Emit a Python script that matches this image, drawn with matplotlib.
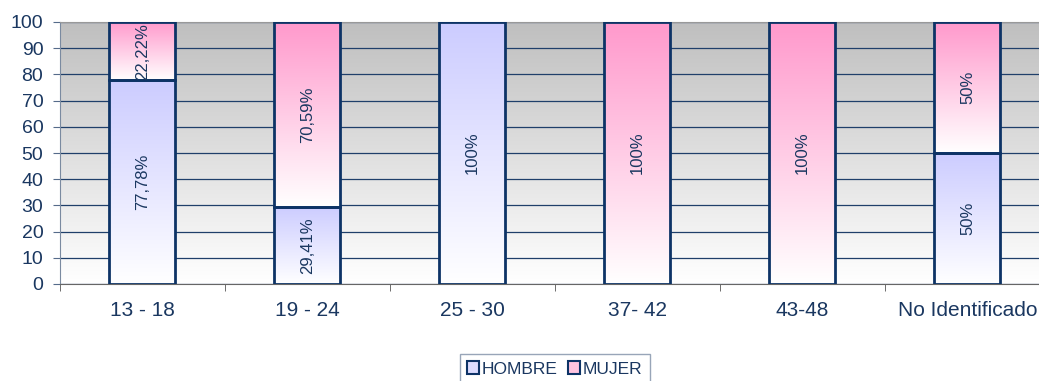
import matplotlib
matplotlib.use("Agg")
import matplotlib.pyplot as plt
import numpy as np
from matplotlib.colors import LinearSegmentedColormap
from matplotlib.patches import Patch

plt.rcParams["font.family"] = ["Liberation Sans", "DejaVu Sans"]

categories = ["13 - 18", "19 - 24", "25 - 30", "37- 42", "43-48", "No Identificado"]
hombre = [77.78, 29.41, 100, 0, 0, 50]
mujer = [22.22, 70.59, 0, 100, 100, 50]
series = ["HOMBRE", "MUJER"]

text_col = "#1a3760"
edge_col = "#0d3366"
colors = {"HOMBRE": "#ccccff", "MUJER": "#ff99cc"}


def fmt(v):
    if abs(v - round(v)) < 1e-9:
        return "%d%%" % round(v)
    return ("%.2f%%" % v).replace(".", ",")


def grad_cmap(c):
    return LinearSegmentedColormap.from_list("g", ["#ffffff", c])


fig = plt.figure(figsize=(10.39, 3.81), dpi=100)
ax = fig.add_axes([60 / 1039, 97 / 381, 990 / 1039, 262 / 381])

x = np.arange(len(categories))
xlim = (-0.5, len(categories) - 0.5)

# background gradient: gray at top, white at bottom
bg = np.linspace(0, 1, 256).reshape(-1, 1)
ax.imshow(bg, extent=(xlim[0], xlim[1], 0, 100), origin="lower", aspect="auto",
          cmap=LinearSegmentedColormap.from_list("bg", ["#ffffff", "#bfbfbf"]),
          zorder=0)

ax.set_axisbelow(True)
ax.yaxis.grid(True, color="#1f3f6a", linewidth=0.9, zorder=1)

bottom = np.zeros(len(categories))
for name, vals in zip(series, [hombre, mujer]):
    vals = np.array(vals, dtype=float)
    cmap = grad_cmap(colors[name])
    for i, v in enumerate(vals):
        if v <= 0:
            continue
        rect = ax.bar(x[i], v, width=0.4, bottom=bottom[i], facecolor="none",
                      edgecolor=edge_col, linewidth=2, zorder=3)[0]
        im = ax.imshow(bg, extent=(x[i] - 0.2, x[i] + 0.2, bottom[i], bottom[i] + v),
                       origin="lower", aspect="auto", cmap=cmap, zorder=2)
        im.set_clip_path(rect)
        ax.text(x[i], bottom[i] + v / 2, fmt(v), rotation=90, ha="center",
                va="center", fontsize=12, color=text_col, zorder=4)
    bottom += vals

ax.set_xlim(*xlim)
ax.set_ylim(0, 100)
ax.set_yticks(np.arange(0, 101, 10))
ax.set_xticks(x)
ax.set_xticklabels(categories)
ax.set_xticks(np.arange(xlim[0], xlim[1] + 0.01, 1), minor=True)
ax.tick_params(axis="x", which="major", length=0, pad=12, labelsize=15,
               labelcolor=text_col)
ax.tick_params(axis="x", which="minor", length=5, color="#555555")
ax.tick_params(axis="y", length=5, color="#556b8a", labelsize=14,
               labelcolor=text_col, pad=7)

ax.spines["right"].set_visible(False)
ax.spines["top"].set_color("#999999")
ax.spines["left"].set_color("#7a8aa0")
ax.spines["bottom"].set_color("#666666")

handles = [Patch(facecolor="#dcdcff", edgecolor=edge_col, linewidth=1.5, label="HOMBRE"),
           Patch(facecolor="#ffc4e0", edgecolor=edge_col, linewidth=1.5, label="MUJER")]
leg = fig.legend(handles=handles, loc="center", bbox_to_anchor=(555 / 1039, 1 - 369 / 381),
                 ncol=2, frameon=True, fancybox=False, fontsize=12.5,
                 handlelength=0.7, handleheight=0.7, handletextpad=0.15,
                 columnspacing=0.6, borderpad=0.4)
leg.get_frame().set_edgecolor("#7f8fa6")
leg.get_frame().set_linewidth(1)
for t in leg.get_texts():
    t.set_color(text_col)

fig.savefig("out.png", dpi=100)
